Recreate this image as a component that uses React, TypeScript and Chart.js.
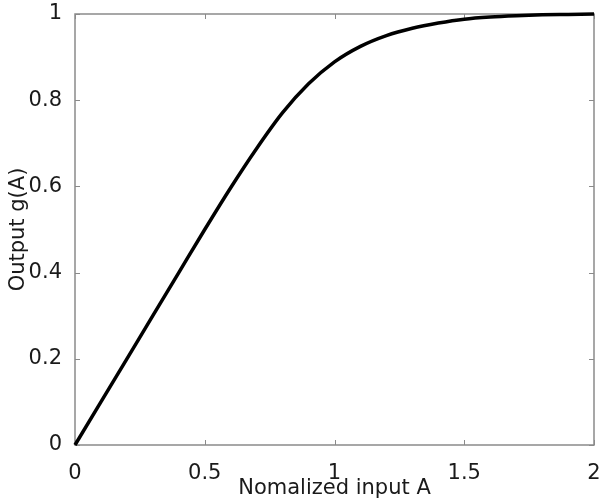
import React, { useEffect, useRef } from "react";
import { Chart, registerables } from "chart.js";

Chart.register(...registerables);

const inputA = [0, 0.1, 0.2, 0.3, 0.4, 0.5, 0.6, 0.7, 0.8, 0.9, 1.0, 1.1, 1.2, 1.3, 1.4, 1.5, 1.6, 1.7, 1.8, 1.9, 2.0];
const outputG = [0, 0.1, 0.2, 0.3, 0.4, 0.5, 0.597, 0.688, 0.771, 0.838, 0.889, 0.925, 0.95, 0.967, 0.979, 0.988, 0.993, 0.996, 0.998, 0.999, 1.0];
const xTitle = "Nomalized input A";
const yTitle = "Output g(A)";

const FONT = "'DejaVu Sans', 'Liberation Sans', Arial, sans-serif";

const fmt = (v: number) => String(Math.round(v * 10) / 10);

const framePlugin = {
  id: "frame",
  beforeDatasetsDraw(chart: any) {
    const { ctx, chartArea } = chart;
    const { left, right, top, bottom } = chartArea;
    const xs = chart.scales.x;
    const ys = chart.scales.y;
    ctx.save();
    ctx.strokeStyle = "#8a8a8a";
    ctx.lineWidth = 1.5;
    ctx.strokeRect(left, top, right - left, bottom - top);
    ctx.lineWidth = 1;
    const len = 5;
    ctx.beginPath();
    xs.ticks.forEach((t: any) => {
      const px = Math.round(xs.getPixelForValue(t.value)) + 0.5;
      ctx.moveTo(px, bottom);
      ctx.lineTo(px, bottom - len);
      ctx.moveTo(px, top);
      ctx.lineTo(px, top + len);
    });
    ys.ticks.forEach((t: any) => {
      const py = Math.round(ys.getPixelForValue(t.value)) + 0.5;
      ctx.moveTo(left, py);
      ctx.lineTo(left + len, py);
      ctx.moveTo(right, py);
      ctx.lineTo(right - len, py);
    });
    ctx.stroke();
    ctx.restore();
  },
};

export default function App() {
  const ref = useRef<HTMLCanvasElement>(null);

  useEffect(() => {
    if (!ref.current) return;
    const chart = new Chart(ref.current, {
      type: "line",
      data: {
        datasets: [
          {
            data: inputA.map((a, i) => ({ x: a, y: outputG[i] })),
            borderColor: "#000000",
            borderWidth: 3.5,
            pointRadius: 0,
            fill: false,
            cubicInterpolationMode: "monotone",
            clip: 6,
          } as any,
        ],
      },
      options: {
        animation: false,
        responsive: false,
        layout: { padding: { top: 14, right: 5, left: 0, bottom: 0 } },
        plugins: { legend: { display: false }, tooltip: { enabled: false } },
        scales: {
          x: {
            type: "linear",
            min: 0,
            max: 2,
            ticks: {
              stepSize: 0.5,
              padding: 8,
              color: "#1a1a1a",
              font: { family: FONT, size: 21, lineHeight: 1.2 },
              maxRotation: 0,
              callback: (v: any) => fmt(Number(v)),
            },
            grid: { display: false },
            border: { display: false },
            title: {
              display: true,
              text: xTitle,
              color: "#1a1a1a",
              font: { family: FONT, size: 21, lineHeight: 1.2 },
              padding: { top: 0, bottom: 0 },
            },
            afterFit(scale: any) {
              scale.height = 56;
              scale.paddingLeft = 0;
              scale.paddingRight = 0;
            },
          },
          y: {
            type: "linear",
            min: 0,
            max: 1,
            ticks: {
              stepSize: 0.2,
              padding: 5,
              color: "#1a1a1a",
              font: { family: FONT, size: 21, lineHeight: 1.2 },
              callback: (v: any) => fmt(Number(v)),
            },
            grid: { display: false },
            border: { display: false },
            title: {
              display: true,
              text: yTitle,
              color: "#1a1a1a",
              font: { family: FONT, size: 21, lineHeight: 1.2 },
              padding: { top: 6, bottom: 0 },
            },
            afterFit(scale: any) {
              scale.width = 75;
              scale.paddingTop = 0;
              scale.paddingBottom = 0;
            },
          },
        },
      },
      plugins: [framePlugin],
    });
    return () => chart.destroy();
  }, []);

  return (
    <div style={{ position: "absolute", left: 0, top: 0, width: 599, height: 501, background: "#ffffff" }}>
      <canvas ref={ref} width={599} height={501} style={{ display: "block" }} />
    </div>
  );
}
